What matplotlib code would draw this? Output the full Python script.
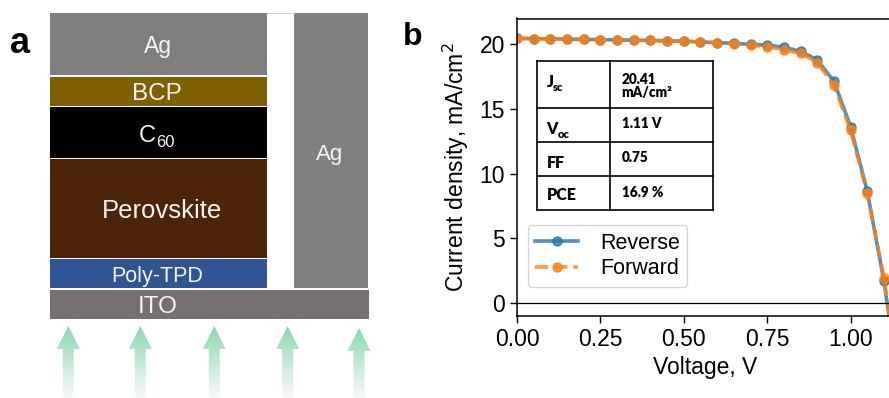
import numpy as np
import matplotlib
matplotlib.use("Agg")
import matplotlib.pyplot as plt
from matplotlib.patches import Rectangle, Polygon
import matplotlib.colors as mcolors

# ---------------- data ----------------
voltage = [0.00, 0.05, 0.10, 0.15, 0.20, 0.25, 0.30, 0.35, 0.40, 0.45, 0.50, 0.55,
           0.60, 0.65, 0.70, 0.75, 0.80, 0.85, 0.90, 0.95, 1.00, 1.05, 1.10, 1.15]
reverse = [20.41, 20.39, 20.37, 20.35, 20.33, 20.31, 20.29, 20.27, 20.25, 20.22, 20.19, 20.14,
           20.08, 20.03, 19.95, 19.90, 19.72, 19.42, 18.75, 17.10, 13.62, 8.62, 1.70, -7.0]
forward = [20.41, 20.39, 20.37, 20.35, 20.33, 20.31, 20.29, 20.27, 20.25, 20.22, 20.19, 20.13,
           20.06, 20.00, 19.87, 19.77, 19.54, 19.26, 18.55, 16.80, 13.32, 8.50, 1.97, -6.5]
series_labels = ["Reverse", "Forward"]
xticks = [0.00, 0.25, 0.50, 0.75, 1.00]
yticks = [0, 5, 10, 15, 20]

table_params = ["J", "V", "FF", "PCE"]
table_subs = ["sc", "oc", "", ""]
table_values = [["20.41", "mA/cm²"], ["1.11 V"], ["0.75"], ["16.9 %"]]

# device stack (pixel boxes: x0, x1, y_top, y_bottom), label, colour
layer_names = ["Ag", "BCP", "C60", "Perovskite", "Poly-TPD", "ITO", "Ag"]
layer_boxes = [(50, 266.7, 12.7, 75.5), (50, 266.7, 76.7, 106.2), (50, 266.7, 106.9, 158.3),
               (50, 266.7, 159.3, 257.8), (50, 266.7, 259.0, 288.0), (50, 369.3, 290.0, 319.0),
               (294, 368.3, 13.3, 287.5)]
layer_colors = ["#7f7f7f", "#7f6000", "#000000", "#4c2408", "#2f5597", "#767171", "#808080"]
arrow_x = [68.3, 140.3, 214.3, 287.7, 359.0]

W, H = 889, 398
fig = plt.figure(figsize=(W / 100, H / 100), dpi=100)

# ---------------- panel a (schematic) ----------------
ax0 = fig.add_axes([0, 0, 1, 1], zorder=0)
ax0.set_xlim(0, W)
ax0.set_ylim(H, 0)
ax0.axis("off")

for (x0, x1, yt, yb), col in zip(layer_boxes, layer_colors):
    ax0.add_patch(Rectangle((x0, yt), x1 - x0, yb - yt, facecolor=col, edgecolor="none"))
ax0.plot([266.7, 294], [13, 13], color="#d0d0d0", lw=0.8)

txtc = "#f4f4f4"
sans = "Liberation Sans"
ax0.text(158, 53, "Ag", color=txtc, fontsize=16.5, ha="center", va="baseline", family=sans)
ax0.text(157, 100, "BCP", color=txtc, fontsize=17.5, ha="center", va="baseline", family=sans)
ax0.text(147, 141.7, "C", color=txtc, fontsize=17, ha="center", va="baseline", family=sans)
ax0.text(156, 147.3, "60", color=txtc, fontsize=12, ha="left", va="baseline", family=sans)
ax0.text(162, 218, "Perovskite", color=txtc, fontsize=18.5, ha="center", va="baseline", family=sans)
ax0.text(157, 282, "Poly-TPD", color=txtc, fontsize=15.5, ha="center", va="baseline", family=sans)
ax0.text(158, 313, "ITO", color=txtc, fontsize=17.5, ha="center", va="baseline", family=sans)
ax0.text(330, 160, "Ag", color=txtc, fontsize=16, ha="center", va="baseline", family=sans)

# gradient arrows
c_top = np.array(mcolors.to_rgb("#86d6ac"))
c_bot = np.array(mcolors.to_rgb("#f8f8fd"))
ny = 200
t = np.linspace(0, 1, ny) ** 0.9
grad = (c_top[None, :] * (1 - t[:, None]) + c_bot[None, :] * t[:, None])[:, None, :]
for i, xc in enumerate(arrow_x):
    apex = 326 if i < 4 else 328
    base = apex + 23
    hw, sw = 11.5, 5.5
    pts = [(xc, apex), (xc + hw, base), (xc + sw, base), (xc + sw, H), (xc - sw, H),
           (xc - sw, base), (xc - hw, base)]
    poly = Polygon(pts, closed=True, facecolor="none", edgecolor="none")
    ax0.add_patch(poly)
    im = ax0.imshow(grad, extent=(xc - hw, xc + hw, H, apex), origin="upper",
                    aspect="auto", interpolation="bilinear")
    im.set_clip_path(poly)
ax0.set_xlim(0, W)
ax0.set_ylim(H, 0)

# ---------------- panel b (J-V) ----------------
left = 517 / W
bottom = (H - 315.7) / H
xmax = 1.125
width_px = xmax * 333.6
ax = fig.add_axes([left, bottom, width_px / W, (315.7 - 18.5) / H], zorder=1)
ax.plot(voltage, reverse, color="#1f77b4", alpha=0.8, lw=2.6, marker="o", ms=6.5,
        label=series_labels[0])
ax.plot(voltage, forward, color="#ff7f0e", alpha=0.8, lw=2.6, ls="--", marker="o", ms=6.5,
        label=series_labels[1])
ax.axhline(0, color="black", lw=0.9)
ax.set_xlim(0, xmax)
ax.set_ylim(-0.95, 21.94)
ax.set_xticks(xticks)
ax.set_yticks(yticks)
ax.set_xticklabels([f"{v:.2f}" for v in xticks])
ax.tick_params(labelsize=16.5, length=5, width=1.0)
for lab in ax.get_xticklabels() + ax.get_yticklabels():
    lab.set_family(sans)
ax.set_xlabel("Voltage, V", fontsize=16.5, family=sans, labelpad=4)
ax.set_ylabel("Current density, mA/cm$^2$", fontsize=16.5, family=sans, labelpad=6)
for s in ax.spines.values():
    s.set_linewidth(1.1)
ax.legend(loc="lower left", bbox_to_anchor=(0.029, 0.097), borderaxespad=0,
          prop={"family": sans, "size": 15.5}, handlelength=2.0, borderpad=0.35,
          labelspacing=0.2, handletextpad=1.0)

# ---------------- overlay: table + panel letters ----------------
ov = fig.add_axes([0, 0, 1, 1], zorder=5)
ov.set_facecolor("none")
ov.set_xlim(0, W)
ov.set_ylim(H, 0)
ov.axis("off")

tx0, tx1, tcol = 536.7, 713.3, 610.0
rows = [61.0, 107.7, 141.7, 175.7, 210.0]
lw_t = 1.2
for y in rows:
    ov.plot([tx0, tx1], [y, y], color="black", lw=lw_t, solid_capstyle="projecting")
for x in [tx0, tcol, tx1]:
    ov.plot([x, x], [rows[0], rows[-1]], color="black", lw=lw_t, solid_capstyle="projecting")

tf = "Lato"
param_base = [87, 133.5, 167.5, 200]
sub_base = [91, 138, 0, 0]
sub_x = [552.5, 557.5, 0, 0]
val_base = [[83.5, 96.5], [128], [162], [197]]
for i, p in enumerate(table_params):
    ov.text(546.7, param_base[i], p, fontsize=11.5, fontweight="heavy", family=tf,
            ha="left", va="baseline")
    if table_subs[i]:
        ov.text(sub_x[i], sub_base[i], table_subs[i], fontsize=8, fontweight="heavy",
                family=tf, ha="left", va="baseline")
    for v, yb in zip(table_values[i], val_base[i]):
        ov.text(621.7, yb, v, fontsize=9.8, fontweight="heavy", family=tf, ha="left",
                va="baseline")

ov.text(20, 53, "a", fontsize=26, fontweight="bold", family=sans, ha="center", va="baseline")
ov.text(412.5, 45, "b", fontsize=23, fontweight="bold", family=sans, ha="center", va="baseline")

fig.savefig("out.png", dpi=100)
